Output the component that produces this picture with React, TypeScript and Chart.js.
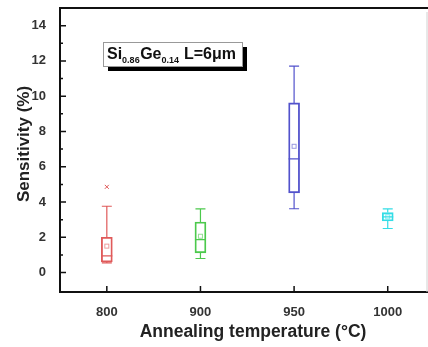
import React, { useEffect, useRef } from 'react';
import { Chart, registerables } from 'chart.js';

Chart.register(...registerables);

const categories = ['800', '900', '950', '1000'];
const whiskerLow = [0.55, 0.8, 3.62, 2.5];
const q1 = [0.6, 1.12, 4.52, 2.93];
const median = [0.95, 1.87, 6.45, 3.16];
const q3 = [2.0, 2.87, 9.62, 3.4];
const whiskerHigh = [3.76, 3.61, 11.7, 3.61];
const means = [1.5, 2.06, 7.16, 3.16];
const outliers: number[][] = [[4.86], [], [], []];
const colors = ['#e05a5a', '#4cc94c', '#5252cc', '#33dde6'];
const yTicks = [0, 2, 4, 6, 8, 10, 12, 14];
const yMinorTicks = [1, 3, 5, 7, 9, 11, 13];

const FONT = "'Liberation Sans', Arial, sans-serif";

const extrasPlugin = {
  id: 'extras',
  afterDatasetsDraw(chart: any) {
    const { ctx, scales } = chart;
    const x = scales.x;
    const y = scales.y;
    const meta = chart.getDatasetMeta(0);
    ctx.save();
    categories.forEach((_, i) => {
      const cx = x.getPixelForValue(i);
      const half = meta.data[i] ? meta.data[i].width / 2 : 5.5;
      const capHalf = 5;
      const c = colors[i];
      ctx.strokeStyle = c;
      ctx.lineWidth = 1.2;
      const yLo = y.getPixelForValue(whiskerLow[i]);
      const yHi = y.getPixelForValue(whiskerHigh[i]);
      const yQ1 = y.getPixelForValue(q1[i]);
      const yQ3 = y.getPixelForValue(q3[i]);
      const yMed = y.getPixelForValue(median[i]);
      const yMean = y.getPixelForValue(means[i]);
      ctx.beginPath();
      ctx.moveTo(cx, yQ1); ctx.lineTo(cx, yLo);
      ctx.moveTo(cx, yQ3); ctx.lineTo(cx, yHi);
      ctx.moveTo(cx - capHalf, yLo); ctx.lineTo(cx + capHalf, yLo);
      ctx.moveTo(cx - capHalf, yHi); ctx.lineTo(cx + capHalf, yHi);
      ctx.moveTo(cx - half, yMed); ctx.lineTo(cx + half, yMed);
      ctx.stroke();
      ctx.globalAlpha = 0.6;
      ctx.lineWidth = 1;
      ctx.strokeRect(cx - 2, yMean - 2, 4, 4);
      ctx.globalAlpha = 1;
      outliers[i].forEach((v) => {
        const oy = y.getPixelForValue(v);
        ctx.beginPath();
        ctx.moveTo(cx - 2, oy - 2); ctx.lineTo(cx + 2, oy + 2);
        ctx.moveTo(cx + 2, oy - 2); ctx.lineTo(cx - 2, oy + 2);
        ctx.stroke();
      });
    });
    ctx.restore();
  },
  afterDraw(chart: any) {
    const { ctx, chartArea, scales } = chart;
    const x = scales.x;
    const y = scales.y;
    ctx.save();
    // frame top & faint right
    ctx.strokeStyle = '#111';
    ctx.lineWidth = 2;
    ctx.beginPath();
    ctx.moveTo(chartArea.left - 1, chartArea.top);
    ctx.lineTo(chartArea.right, chartArea.top);
    ctx.stroke();
    ctx.strokeStyle = '#d0d0d0';
    ctx.lineWidth = 1;
    ctx.beginPath();
    ctx.moveTo(427, chartArea.top + 4);
    ctx.lineTo(427, chartArea.bottom);
    ctx.stroke();
    // inward ticks
    ctx.strokeStyle = '#111';
    ctx.lineWidth = 1.5;
    ctx.beginPath();
    yTicks.forEach((v) => {
      const py = y.getPixelForValue(v);
      ctx.moveTo(chartArea.left, py); ctx.lineTo(chartArea.left + 6, py);
    });
    yMinorTicks.forEach((v) => {
      const py = y.getPixelForValue(v);
      ctx.moveTo(chartArea.left, py); ctx.lineTo(chartArea.left + 3, py);
    });
    categories.forEach((_, i) => {
      const px = x.getPixelForValue(i);
      ctx.moveTo(px, chartArea.bottom); ctx.lineTo(px, chartArea.bottom - 6);
    });
    ctx.stroke();

    // axis titles
    ctx.fillStyle = '#222';
    ctx.font = `bold 17.5px ${FONT}`;
    ctx.textAlign = 'center';
    ctx.textBaseline = 'middle';
    ctx.fillText('Annealing temperature (\u00B0C)', 253, 332);
    ctx.font = `bold 17px ${FONT}`;
    ctx.save();
    ctx.translate(24, 144);
    ctx.rotate(-Math.PI / 2);
    ctx.fillText('Sensitivity (%)', 0, 0);
    ctx.restore();

    // legend box with shadow
    const bx = 103, by = 42, bw = 139, bh = 24;
    ctx.fillStyle = '#000';
    ctx.fillRect(bx + 5, by + 5, bw, bh);
    ctx.fillStyle = '#fff';
    ctx.fillRect(bx, by, bw, bh);
    ctx.strokeStyle = '#999';
    ctx.lineWidth = 1;
    ctx.strokeRect(bx + 0.5, by + 0.5, bw, bh);
    ctx.fillStyle = '#111';
    ctx.textAlign = 'left';
    ctx.textBaseline = 'alphabetic';
    const parts: [string, boolean][] = [
      ['Si', false], ['0.86', true], ['Ge', false], ['0.14', true], [' L=6\u03BCm', false],
    ];
    let tx = 107;
    const base = 59;
    parts.forEach(([t, sub]) => {
      ctx.font = sub ? `bold 9px ${FONT}` : `bold 16px ${FONT}`;
      ctx.fillText(t, tx, sub ? base + 4 : base);
      tx += ctx.measureText(t).width + (sub ? 0.5 : 0);
    });
    ctx.restore();
  },
};

export default function App() {
  const ref = useRef<HTMLCanvasElement>(null);
  useEffect(() => {
    if (!ref.current) return;
    const chart = new Chart(ref.current, {
      type: 'bar',
      data: {
        datasets: [
          {
            data: categories.map((_, i) => ({ x: i, y: [q1[i], q3[i]] })) as any,
            backgroundColor: 'rgba(255,255,255,0)',
            borderColor: colors,
            borderWidth: 1.2,
            borderSkipped: false,
            barThickness: 11,
          },
        ],
      },
      options: {
        animation: false,
        responsive: false,
        devicePixelRatio: 1,
        layout: { padding: { top: 8, right: 0, left: 0, bottom: 0 } },
        plugins: { legend: { display: false }, tooltip: { enabled: false } },
        scales: {
          x: {
            type: 'linear',
            position: 'bottom',
            offset: false,
            min: -0.5,
            max: 3.43,
            grid: { display: false, offset: false },
            border: { display: true, width: 2, color: '#111' },
            ticks: {
              color: '#333',
              font: { family: FONT, size: 13, weight: 'bold' },
              padding: 5,
              maxRotation: 0,
              callback: (v: any) => categories[v as number] ?? '',
            },
            afterBuildTicks: (s: any) => {
              s.ticks = categories.map((_, i) => ({ value: i }));
            },
            afterFit: (s: any) => {
              s.height = 55;
              s.paddingLeft = 0;
              s.paddingRight = 0;
            },
          },
          y: {
            type: 'linear',
            min: -1.1,
            max: 15,
            grid: { display: false },
            border: { display: true, width: 2, color: '#111' },
            ticks: {
              color: '#333',
              font: { family: FONT, size: 13, weight: 'bold' },
              padding: 6,
            },
            afterBuildTicks: (s: any) => {
              s.ticks = yTicks.map((v) => ({ value: v }));
            },
            afterFit: (s: any) => {
              s.width = 60;
              s.paddingTop = 0;
              s.paddingBottom = 0;
            },
          },
        },
      } as any,
      plugins: [extrasPlugin],
    });
    return () => chart.destroy();
  }, []);
  return (
    <div style={{ position: 'absolute', left: 0, top: 0, width: 428, height: 347, background: '#fff' }}>
      <canvas ref={ref} width={428} height={347} />
    </div>
  );
}
